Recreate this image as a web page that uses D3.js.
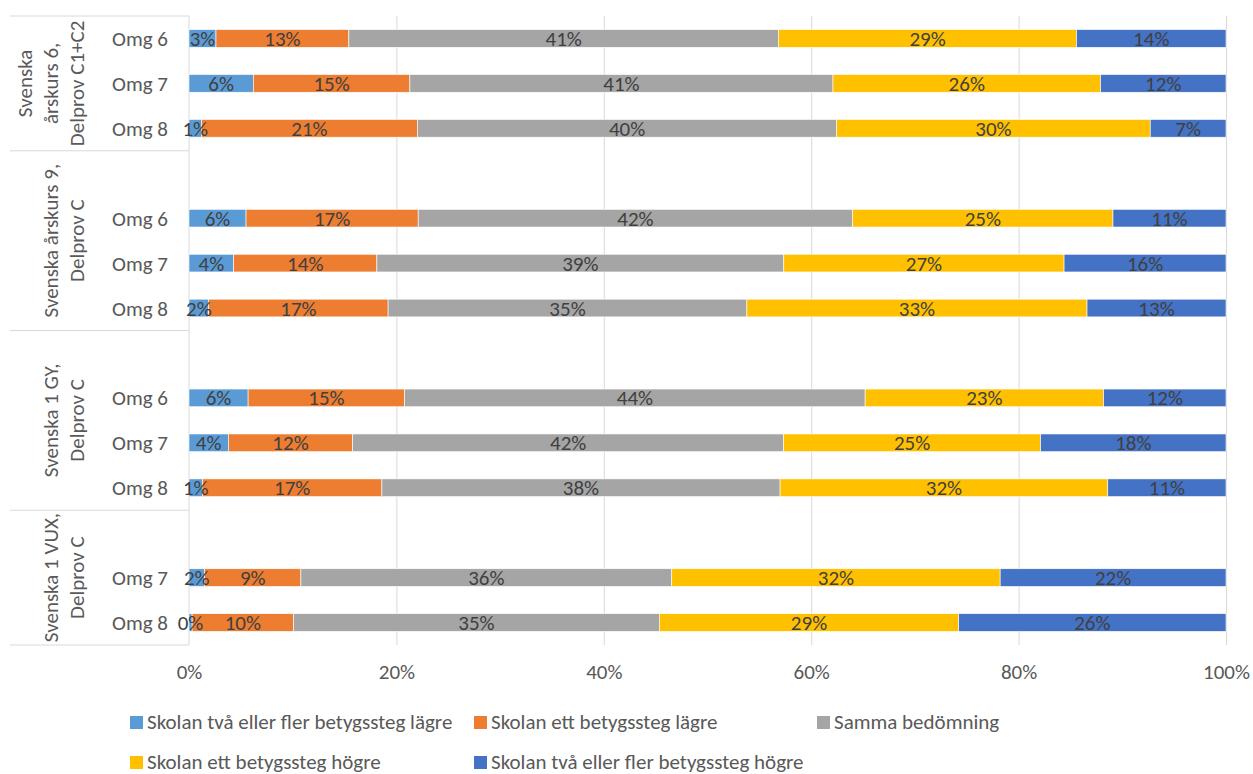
<!DOCTYPE html>
<html><head><meta charset="utf-8">
<script src="https://cdn.jsdelivr.net/npm/d3@7"></script>
<style>
body{margin:0;background:#fff}
svg text{font-family:Carlito,Calibri,Lato,sans-serif}
</style>
</head><body>
<svg id="c" width="1253" height="774"></svg>
<script>
// ---- data ----
const groupLines = [
  ["Svenska", "årskurs 6,", "Delprov C1+C2"],
  ["Svenska årskurs 9,", "Delprov C"],
  ["Svenska 1 GY,", "Delprov C"],
  ["Svenska 1 VUX,", "Delprov C"]
];
const groupStart = [0, 3, 7, 11, 14];
const rowLabels = ["Omg 6","Omg 7","Omg 8","","Omg 6","Omg 7","Omg 8","","Omg 6","Omg 7","Omg 8","","Omg 7","Omg 8"];
const seriesNames = [
  "Skolan två eller fler betygssteg lägre",
  "Skolan ett betygssteg lägre",
  "Samma bedömning",
  "Skolan ett betygssteg högre",
  "Skolan två eller fler betygssteg högre"
];
const tvaLagre = [2.6, 6.2, 1.2, null, 5.5, 4.3, 1.9, null, 5.7, 3.8, 1.3, null, 1.5, 0.3];
const ettLagre = [12.8, 15.1, 20.8, null, 16.6, 13.8, 17.3, null, 15.1, 12.0, 17.3, null, 9.3, 9.8];
const samma    = [41.4, 40.8, 40.4, null, 41.9, 39.2, 34.6, null, 44.4, 41.6, 38.4, null, 35.8, 35.3];
const ettHogre = [28.7, 25.8, 30.2, null, 25.1, 27.0, 32.8, null, 23.0, 24.8, 31.6, null, 31.7, 28.9];
const tvaHogre = [14.4, 12.1, 7.3, null, 10.9, 15.6, 13.4, null, 11.8, 17.9, 11.4, null, 21.8, 25.8];
const tickValues = [0, 0.2, 0.4, 0.6, 0.8, 1];
const colors = ["#5B9BD5", "#ED7D31", "#A5A5A5", "#FFC000", "#4472C4"];

// ---- build ----
const seriesData = [tvaLagre, ettLagre, samma, ettHogre, tvaHogre];
const keys = d3.range(seriesData.length);
const rows = rowLabels.map((lab, i) => {
  const o = {i: i, label: lab};
  keys.forEach(k => o[k] = seriesData[k][i] == null ? 0 : seriesData[k][i]);
  o.blank = seriesData[0][i] == null;
  return o;
});
const stacked = d3.stack().keys(keys).offset(d3.stackOffsetExpand)(rows.map(r => r.blank ? Object.assign({}, r, {0:0,1:0,2:0,3:0,4:1e-9}) : r));

const svg = d3.select("#c");
const FONT = 21;
const x = d3.scaleLinear().domain([0, 1]).range([189, 1226]);
const y = d3.scaleBand().domain(d3.range(rowLabels.length)).range([16, 645])
  .paddingInner(0.606).paddingOuter(0.303);
const yTop = y.range()[0], yBot = y.range()[1];

// gridlines
svg.append("g").attr("transform", `translate(0,${yBot})`)
  .call(d3.axisBottom(x).tickValues(tickValues.slice(1)).tickSize(-(yBot - yTop)).tickFormat(""))
  .call(g => g.select(".domain").remove())
  .call(g => g.selectAll("line").attr("stroke", "#d9d9d9").attr("stroke-width", 1));

// category axis line + group separators
svg.append("line").attr("x1", x(0)).attr("x2", x(0)).attr("y1", yTop).attr("y2", yBot)
  .attr("stroke", "#d9d9d9").attr("stroke-width", 1);
svg.selectAll("line.sep").data(groupStart).join("line").attr("class", "sep")
  .attr("x1", 10).attr("x2", x(0))
  .attr("y1", d => yTop + d * y.step()).attr("y2", d => yTop + d * y.step())
  .attr("stroke", "#d9d9d9").attr("stroke-width", 1);

// bars
const layer = svg.selectAll("g.layer").data(stacked).join("g").attr("class", "layer")
  .attr("fill", d => colors[d.key]);
layer.selectAll("rect").data(d => d.filter(p => !p.data.blank)).join("rect")
  .attr("x", d => x(d[0])).attr("width", d => x(d[1]) - x(d[0]))
  .attr("y", d => y(d.data.i)).attr("height", y.bandwidth())
  .attr("stroke", "#fff").attr("stroke-width", 0.6);

// data labels
stacked.forEach(s => {
  svg.append("g").selectAll("text").data(s.filter(p => !p.data.blank)).join("text")
    .attr("x", d => (x(d[0]) + x(d[1])) / 2)
    .attr("y", d => y(d.data.i) + y.bandwidth() / 2 + 7.5)
    .attr("text-anchor", "middle").attr("fill", "#404040").attr("font-size", FONT)
    .text(d => Math.round(seriesData[s.key][d.data.i]) + "%");
});

// row labels
svg.append("g").selectAll("text").data(rows).join("text")
  .attr("x", 168).attr("y", d => y(d.i) + y.bandwidth() / 2 + 7.5)
  .attr("text-anchor", "end").attr("fill", "#595959").attr("font-size", FONT)
  .text(d => d.label);

// group labels
groupLines.forEach((lines, gi) => {
  const cy = yTop + (groupStart[gi] + groupStart[gi + 1]) / 2 * y.step();
  const n = lines.length;
  const t = svg.append("text").attr("transform", `translate(0,${cy}) rotate(-90)`)
    .attr("text-anchor", "middle").attr("fill", "#595959").attr("font-size", FONT);
  lines.forEach((ln, li) => {
    t.append("tspan").attr("x", 0).attr("y", 84 - (n - 1 - li) * 26).text(ln);
  });
});

// x axis labels
svg.append("g").attr("transform", `translate(0,${yBot})`)
  .call(d3.axisBottom(x).tickValues(tickValues).tickSize(0).tickFormat(d3.format(".0%")))
  .call(g => g.select(".domain").remove())
  .call(g => g.selectAll("text").attr("y", 34).attr("dy", 0).attr("fill", "#595959")
    .attr("font-size", FONT).attr("font-family", "Carlito,Calibri,Lato,sans-serif"));

// legend
const legPos = [[130, 716], [474, 716], [817, 716], [130, 756], [474, 756]];
const leg = svg.selectAll("g.leg").data(seriesNames).join("g").attr("class", "leg")
  .attr("transform", (d, i) => `translate(${legPos[i][0]},${legPos[i][1]})`);
leg.append("rect").attr("width", 13).attr("height", 13).attr("fill", (d, i) => colors[i]);
leg.append("text").attr("x", 17).attr("y", 13).attr("fill", "#595959").attr("font-size", FONT).text(d => d);
</script>
</body></html>
